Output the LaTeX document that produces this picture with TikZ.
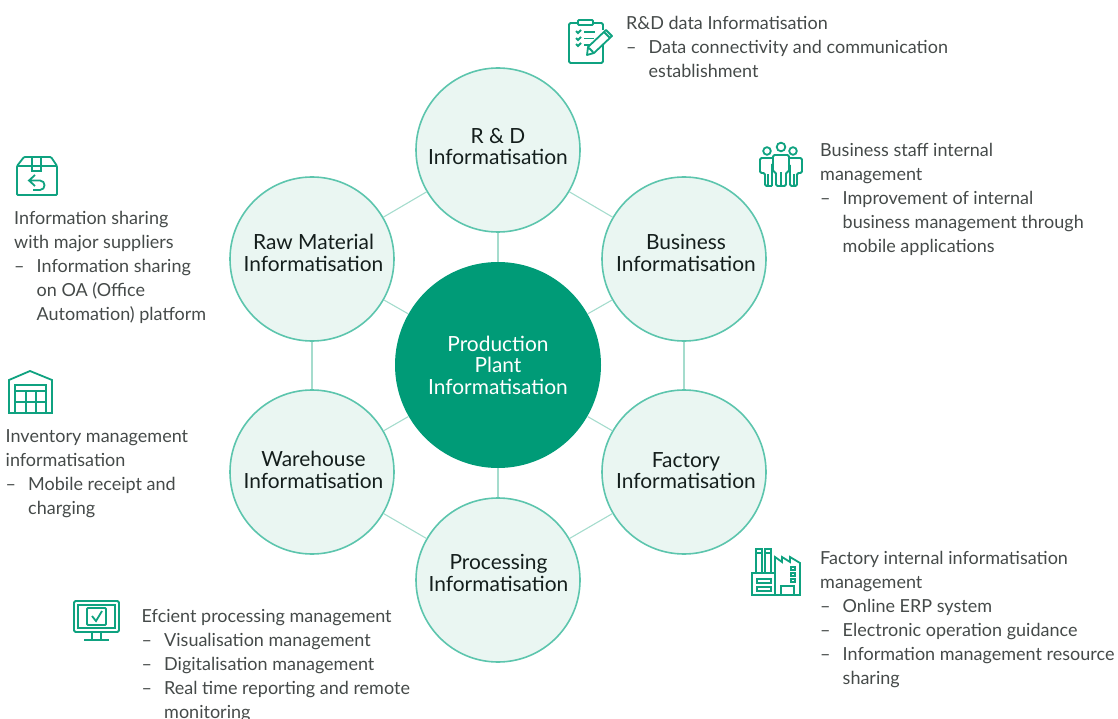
\documentclass[tikz,border=0pt]{standalone}
\usepackage{fontspec}
\setmainfont{Lato}
\definecolor{hub}{HTML}{009B77}
\definecolor{ringc}{HTML}{5CC5AD}
\definecolor{fillc}{HTML}{EAF6F2}
\definecolor{linkc}{HTML}{A5DCCD}
\definecolor{txt}{HTML}{454A49}
\definecolor{ttl}{HTML}{141E1C}
\definecolor{ico}{HTML}{0FA280}
\newcommand{\dsh}{\makebox[22.5pt][l]{–}}
\newcommand{\ind}{\hspace*{22.5pt}}
\tikzset{
  spoke/.style={circle,draw=ringc,fill=fillc,line width=1.6pt,minimum size=164pt,inner sep=0pt},
  lab/.style={inner sep=0pt,align=center,text=ttl,font=\fontsize{20.9}{21.5}\selectfont},
  centre/.style={circle,fill=hub,minimum size=206pt,inner sep=0pt,align=center,text=white,font=\fontsize{20.9}{21.5}\selectfont},
  link/.style={draw=linkc,line width=1.1pt},
  note/.style={anchor=north west,inner sep=0pt,align=left,text=txt,font=\fontsize{18}{24}\selectfont},
  icon/.style={draw=ico,line width=1.8pt,line join=miter},
}
\begin{document}
\begin{tikzpicture}[x=1pt,y=-1pt]
\useasboundingbox (0,0) rectangle (1118,719);
\node[centre] (c) at (498,365) {Production\\Plant\\Informatisation};
\node[spoke] (rd) at (498,150) {};
\node[spoke] (bu) at (684,259) {};
\node[spoke] (fa) at (684,472) {};
\node[spoke] (pr) at (498,580) {};
\node[spoke] (wa) at (312,472) {};
\node[spoke] (ra) at (312,259) {};
\node[lab] (rdt) at (498,146.5) {R \& D\\Informatisation};
\node[lab] (but) at (686,253) {Business\\Informatisation};
\node[lab] (fat) at (686,470.5) {Factory\\Informatisation};
\node[lab] (prt) at (498.5,573) {Processing\\Informatisation};
\node[lab] (wat) at (313.5,470) {Warehouse\\Informatisation};
\node[lab] (rat) at (313.5,253) {Raw Material\\Informatisation};
\foreach \a/\b in {rd/bu,bu/fa,fa/pr,pr/wa,wa/ra,ra/rd,c/rd,c/bu,c/fa,c/pr,c/wa,c/ra}
  \draw[link] (\a) -- (\b);
\node[note] (n1) at (626,16) {R\&D data Informatisation\\\dsh Data connectivity and communication\\\ind establishment};
\node[note] (n2) at (820,143) {Business staff internal\\management\\\dsh Improvement of internal\\\ind business management through\\\ind mobile applications};
\node[note] (n3) at (820,551) {Factory internal informatisation\\management\\\dsh Online ERP system\\\dsh Electronic operation guidance\\\dsh Information management resource\\\ind sharing};
\node[note] (n4) at (141.5,609) {Efcient processing management\\\dsh Visualisation management\\\dsh Digitalisation management\\\dsh Real time reporting and remote\\\ind monitoring};
\node[note] (n5) at (5.5,429) {Inventory management\\informatisation\\\dsh Mobile receipt and\\\ind charging};
\node[note] (n6) at (14,211) {Information sharing\\with major suppliers\\\dsh Information sharing\\\ind on OA (Office\\\ind Automation) platform};
% clipboard
\draw[icon,rounded corners=1.5pt] (578,23) -- (569,23) -- (569,63) -- (603,63) -- (603,44);
\draw[icon,rounded corners=1.5pt] (593,23) -- (603,23) -- (603,30);
\draw[icon,rounded corners=1pt] (578,20) rectangle (593,25);
\draw[icon] (576,31) -- (578,33) -- (581,30) (576,38) -- (578,40) -- (581,37) (576,44) -- (578,46) -- (581,43);
\draw[icon] (584,32) -- (595,32) (584,38.5) -- (594,38.5) (584,45) -- (590,45);
\draw[icon,line join=round] (587,55) -- (588,47) -- (606,30) -- (612,36) -- (594,53) -- cycle (604,32) -- (610,38) (589,48) -- (593,52);
% people
\draw[icon] (767,151) circle (3.8pt) (781,147) circle (4.3pt) (793,151) circle (3.8pt);
\draw[icon,rounded corners=1.5pt] (772,186) -- (772,164) (772,186) -- (765,186) -- (765,173) -- (760,173) -- (760,158) -- (772,158);
\draw[icon] (768,186) -- (768,174);
\draw[icon,rounded corners=1.5pt] (773,172) -- (773,155) -- (789,155) -- (789,172) -- (786,172) -- (786,186) -- (776,186) -- (776,172) -- cycle;
\draw[icon] (781,186) -- (781,172);
\draw[icon,rounded corners=1.5pt] (790,158) -- (802,158) -- (802,173) -- (797,173) -- (797,186) -- (790,186) -- (790,165);
\draw[icon] (794,186) -- (794,174);
% box
\draw[icon,rounded corners=1pt] (17,195) -- (17,166) -- (24,157) -- (51,157) -- (57,166) -- (57,195) -- cycle (17,166) -- (57,166);
\draw[icon] (32,157) -- (32,171) -- (41,171) -- (41,157);
\draw[icon] (35,175) -- (29,180.5) -- (35,186) (29,180.5) -- (40,180.5) .. controls (46,180.5) and (46,190) .. (40,190) -- (33,190);
% warehouse
\draw[icon] (9,413) -- (9,380) -- (30,371) -- (52,380) -- (52,413) -- (46,413) -- (46,385) -- (15,385) -- (15,413) -- cycle;
\draw[icon] (16,391) -- (45,391);
\draw[icon] (16,402) -- (45,402) (16,413) -- (45,413) (26,391) -- (26,413) (36,391) -- (36,413);
% monitor
\draw[icon,rounded corners=1.5pt] (74,601) rectangle (119,632);
\draw[icon] (78,605) rectangle (115,628);
\draw[icon,rounded corners=1pt] (87,608) rectangle (106,625);
\draw[icon] (92,616) -- (96,621) -- (102,611);
\draw[icon] (92,632) -- (92,640) (101,632) -- (101,640) (84,640) -- (109,640);
% factory
\draw[icon] (752,573) rectangle (775,595);
\draw[icon] (775,595) -- (800,595) -- (800,563) -- (790,557) -- (790,562) -- (782,557) -- (782,562) -- (775,557) -- (775,573);
\draw[icon] (756,573) -- (756,549) -- (762,549) -- (762,573) (765,573) -- (765,549) -- (771,549) -- (771,573) (755,553) -- (763,553) (764,553) -- (772,553);
\draw[icon] (757,579) rectangle (771,583) (757,587) rectangle (771,591);
\draw[icon] (781,595) -- (781,586) -- (794,586) -- (794,595);
\draw[icon,line width=1.3pt] (791,567) rectangle (795,570) (791,573) rectangle (795,576) (791,579) rectangle (795,582);
\end{tikzpicture}
\end{document}
